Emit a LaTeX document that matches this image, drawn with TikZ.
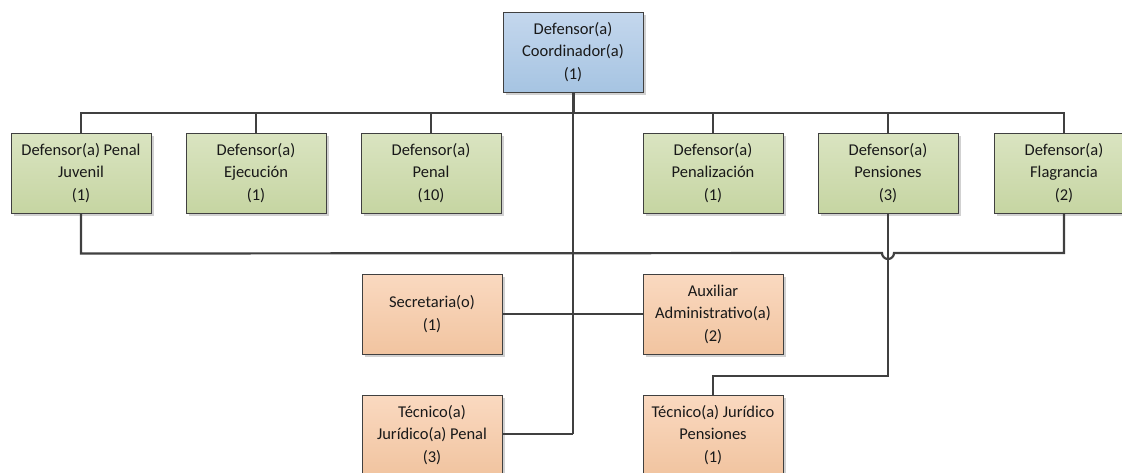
\documentclass[tikz,border=0pt]{standalone}
\usepackage{fontspec}
\setmainfont{Carlito}
\usetikzlibrary{shadows}
\definecolor{lnc}{RGB}{64,64,64}
\definecolor{bluetop}{RGB}{196,215,237}
\definecolor{bluebot}{RGB}{166,196,226}
\definecolor{greentop}{RGB}{218,228,193}
\definecolor{greenbot}{RGB}{198,213,162}
\definecolor{orangetop}{RGB}{250,217,192}
\definecolor{orangebot}{RGB}{241,196,160}
\definecolor{txt}{RGB}{25,25,25}
\tikzset{
  box/.style={draw=lnc, line width=1pt, minimum width=140pt, minimum height=80pt,
    inner sep=0pt, align=center, text=txt, font=\fontsize{16.5}{22.5}\selectfont,
    drop shadow={shadow xshift=3pt, shadow yshift=-3pt, fill=black!18, opacity=1}},
  bluebox/.style={box, top color=bluetop, bottom color=bluebot},
  greenbox/.style={box, top color=greentop, bottom color=greenbot},
  orangebox/.style={box, top color=orangetop, bottom color=orangebot},
  conn/.style={draw=lnc, line width=2.2pt}
}
\begin{document}
\begin{tikzpicture}[x=1pt,y=-1pt]
\useasboundingbox (0,0) rectangle (1122,472);
\clip (0,0) rectangle (1122,472);
\fill[white] (0,0) rectangle (1122,472);
% coordinates
\coordinate (bus) at (573,113);
\coordinate (trunkend) at (573,434);
\coordinate (jmp) at (888,376);
% nodes
\node[bluebox] (top) at (573,52) {Defensor(a)\\Coordinador(a)\\(1)};
\node[greenbox] (g1) at (81,173) {Defensor(a) Penal\\Juvenil\\(1)};
\node[greenbox] (g2) at (256,173) {Defensor(a)\\Ejecución\\(1)};
\node[greenbox] (g3) at (431,173) {Defensor(a)\\Penal\\(10)};
\node[greenbox] (g5) at (713,173) {Defensor(a)\\Penalización\\(1)};
\node[greenbox] (g6) at (888,173) {Defensor(a)\\Pensiones\\(3)};
\node[greenbox] (g7) at (1064,173) {Defensor(a)\\Flagrancia\\(2)};
\node[orangebox] (sec) at (432,314) {Secretaria(o)\\(1)};
\node[orangebox] (aux) at (713,314) {Auxiliar\\Administrativo(a)\\(2)};
\node[orangebox] (tpen) at (432,435) {Técnico(a)\\Jurídico(a) Penal\\(3)};
\node[orangebox] (tpens) at (713,435) {Técnico(a) Jurídico\\Pensiones\\(1)};
% connectors
\draw[conn, line width=3pt] (top.south) -- (bus);
\draw[conn] (bus) -- (trunkend);
\draw[conn] (g1.north) -- (g1.north |- bus) -- (g7.north |- bus) -- (g7.north);
\foreach \n in {g2,g3,g5,g6} { \draw[conn] (\n.north |- bus) -- (\n.north); }
\draw[conn] (g1.south) -- ++(0,40) -- (882,253) arc (180:0:6) -- (1064,253) -- (g7.south);
\draw[conn] (g6.south) -- (jmp) -- (jmp -| tpens.north) -- (tpens.north);
\draw[conn] (sec.east) -- (aux.west);
\draw[conn] (trunkend) -- (tpen.east |- trunkend);
\end{tikzpicture}
\end{document}
